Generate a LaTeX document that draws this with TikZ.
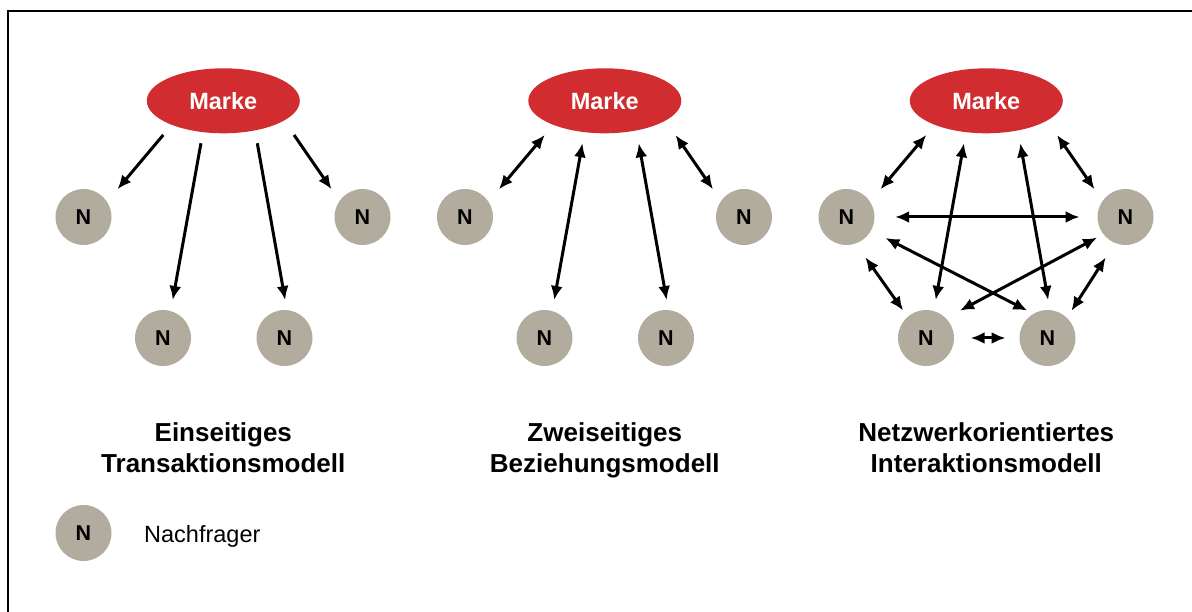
\documentclass[tikz,border=0pt]{standalone}
\usepackage{fontspec}
\setmainfont{Liberation Sans}
\usepackage{tikz}
\usetikzlibrary{arrows.meta, positioning, shapes.geometric}
\definecolor{markered}{RGB}{209,45,48}
\definecolor{nachgray}{RGB}{178,172,158}
\tikzset{
    marke/.style={ellipse, fill=markered, text=white, inner sep=0pt, outer sep=0pt,
        minimum width=153pt, minimum height=65pt, font=\bfseries\fontsize{23.5}{24}\selectfont},
    nachfrager/.style={circle, fill=nachgray, inner sep=0pt, outer sep=0pt,
        minimum size=56pt, font=\bfseries\fontsize{21.5}{22}\selectfont},
    einweg/.style={line width=3pt, -{Latex[length=14pt,width=12pt]}},
    zweiweg/.style={line width=3pt, {Latex[length=14pt,width=12pt]}-{Latex[length=14pt,width=12pt]}},
    titel/.style={align=center, anchor=north, inner sep=0pt, font=\bfseries\fontsize{26}{31}\selectfont},
}

\begin{document}
\begin{tikzpicture}[x=1pt, y=-1pt]
    \useasboundingbox (0,0) rectangle (1192,612);
    \draw[line width=2.3pt] (8,612) -- (8,11) -- (1192,11);

    % Einseitiges Transaktionsmodell
    \node[marke] (m1) at (223.3,100.8) {Marke};
    \node[nachfrager] (nl1) at (83.5,217) {N};
    \node[nachfrager] (nbl1) at (163,338) {N};
    \node[nachfrager] (nbr1) at (284.5,338) {N};
    \node[nachfrager] (nr1) at (362.5,217) {N};

    \draw[einweg, shorten <=13.2pt, shorten >=16.3pt] (m1.205) -- (nl1.33);
    \draw[einweg, shorten <=11.3pt, shorten >=11.3pt] (m1.237) -- (nbl1.74);
    \draw[einweg, shorten <=13.1pt, shorten >=10.2pt] (m1.317) -- (nbr1.85.3);
    \draw[einweg, shorten <=17.6pt, shorten >=14.2pt] (m1.342.2) -- (nr1.145.3);

    \node[titel] (t1) at (223.3,422) {Einseitiges\\Transaktionsmodell};

    % Zweiseitiges Beziehungsmodell
    \begin{scope}[xshift=381.5pt]
    \node[marke] (m2) at (223.3,100.8) {Marke};
    \node[nachfrager] (nl2) at (83.5,217) {N};
    \node[nachfrager] (nbl2) at (163,338) {N};
    \node[nachfrager] (nbr2) at (284.5,338) {N};
    \node[nachfrager] (nr2) at (362.5,217) {N};

    \draw[zweiweg, shorten <=13.2pt, shorten >=16.3pt] (m2.205) -- (nl2.33);
    \draw[zweiweg, shorten <=11.3pt, shorten >=11.3pt] (m2.237) -- (nbl2.74);
    \draw[zweiweg, shorten <=13.1pt, shorten >=10.2pt] (m2.317) -- (nbr2.85.3);
    \draw[zweiweg, shorten <=17.6pt, shorten >=14.2pt] (m2.342.2) -- (nr2.145.3);

    \node[titel] (t2) at (223.3,422) {Zweiseitiges\\Beziehungsmodell};
    \end{scope}

    % Netzwerkorientiertes Interaktionsmodell
    \begin{scope}[xshift=763pt]
    \node[marke] (m3) at (223.3,100.8) {Marke};
    \node[nachfrager] (nl3) at (83.5,217) {N};
    \node[nachfrager] (nbl3) at (163,338) {N};
    \node[nachfrager] (nbr3) at (284.5,338) {N};
    \node[nachfrager] (nr3) at (362.5,217) {N};

    \draw[zweiweg, shorten <=13.2pt, shorten >=16.3pt] (m3.205) -- (nl3.33);
    \draw[zweiweg, shorten <=11.3pt, shorten >=11.3pt] (m3.237) -- (nbl3.74);
    \draw[zweiweg, shorten <=13.1pt, shorten >=10.2pt] (m3.317) -- (nbr3.85.3);
    \draw[zweiweg, shorten <=17.6pt, shorten >=14.2pt] (m3.342.2) -- (nr3.145.3);

    \draw[zweiweg, shorten <=20.7pt, shorten >=18pt] (nl3) -- (nr3);
    \draw[zweiweg, shorten <=16.2pt, shorten >=6.9pt] (nl3.331.7) -- (nbr3.120.5);
    \draw[zweiweg, shorten <=7.2pt, shorten >=16.1pt] (nr3.218.3) -- (nbl3.45);
    \draw[zweiweg, shorten <=16.9pt, shorten >=7.8pt] (nl3.289.8) -- (nbl3.131.7);
    \draw[zweiweg, shorten <=17.2pt, shorten >=8.3pt] (nr3.248) -- (nbr3.46.8);
    \draw[zweiweg, shorten <=16.7pt, shorten >=14pt] (nbl3) -- (nbr3);

    \node[titel] (t3) at (223.3,422) {Netzwerkorientiertes\\Interaktionsmodell};
    \end{scope}

    % Legende
    \node[nachfrager] (leg) at (83.5,533) {N};
    \node[anchor=base west, inner sep=0pt, font=\fontsize{23.5}{24}\selectfont] (legtext) at (144,542) {Nachfrager};
\end{tikzpicture}
\end{document}
